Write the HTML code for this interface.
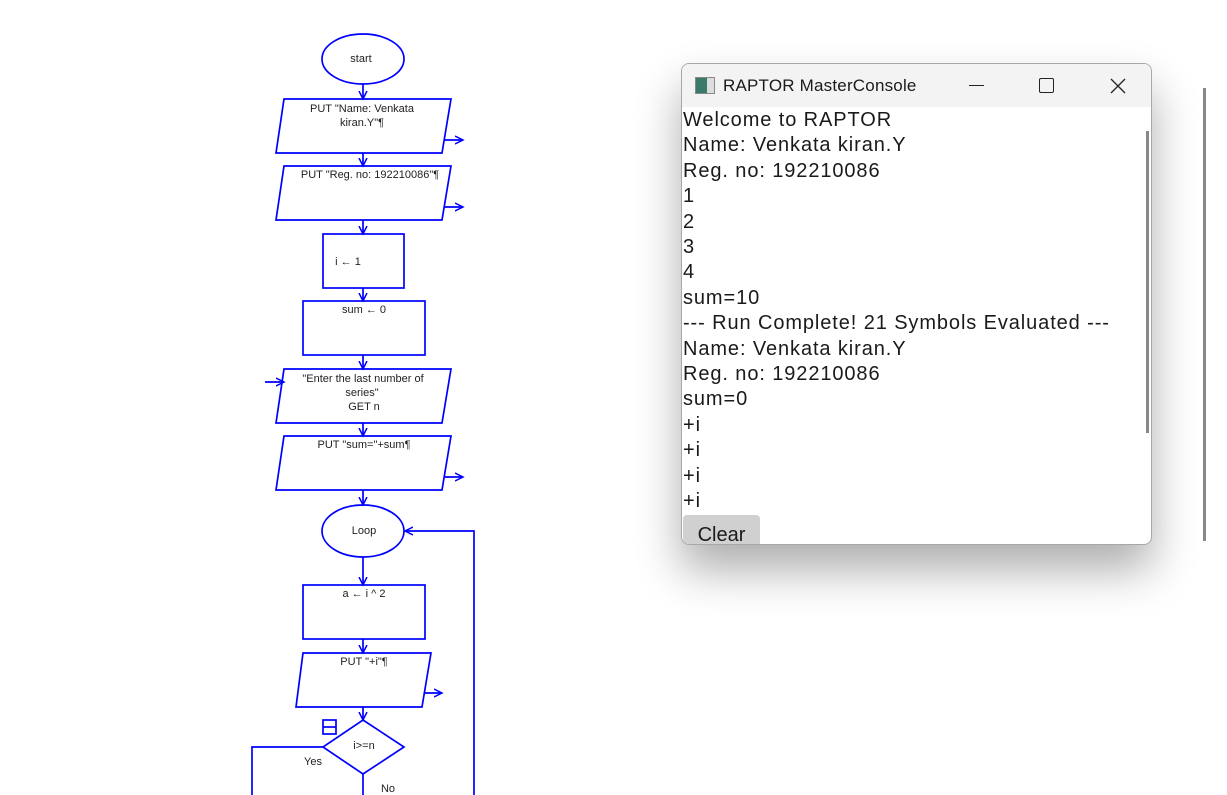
<!DOCTYPE html>
<html><head><meta charset="utf-8"><style>
body{margin:0;width:1227px;height:795px;background:#fff;overflow:hidden;position:relative;font-family:"Liberation Sans",sans-serif}
svg.fc{position:absolute;left:0;top:0}
.win{position:absolute;left:681px;top:63px;width:469px;height:480px;border:1px solid #a8a8a8;border-radius:8px;background:#fff;box-shadow:0 25px 45px rgba(0,0,0,.32);overflow:hidden}
.tb{height:43px;background:#f3f3f3;position:relative}
.tb .t{position:absolute;left:41px;top:12px;font-size:17px;color:#1a1a1a;letter-spacing:0.2px}
.ico{position:absolute;left:13px;top:13px;width:18px;height:15px;border:1px solid #888;background:linear-gradient(90deg,#3a7a6a 0 60%,#ddd 60%)}
.txt{position:absolute;left:1px;top:44px;font-size:20px;line-height:25.4px;color:#1a1a1a;white-space:pre;letter-spacing:0.9px}
.sb{position:absolute;left:464px;top:67px;width:3px;height:302px;background:#888}
.clr{position:absolute;left:1px;top:451px;width:77px;height:34px;background:#d0d0d0;border-radius:4px;font-size:20px;color:#1a1a1a;text-align:center;line-height:40px}
.vl{position:absolute;left:1203px;top:88px;width:3px;height:453px;background:#888}
</style></head><body>
<svg class="fc" width="1227" height="795" font-family="Liberation Sans, sans-serif" font-size="11" fill="none" stroke="#0000ff" stroke-width="1.7">
<defs><marker id="a" markerWidth="10" markerHeight="10" refX="8" refY="5" orient="auto" markerUnits="userSpaceOnUse"><path d="M0,1 L8,5 L0,9" stroke="#0000ff" fill="none" stroke-width="1.5"/></marker></defs>
<ellipse cx="363" cy="59" rx="41" ry="25"/>
<line x1="363" y1="84" x2="363" y2="99" marker-end="url(#a)"/>
<polygon points="284,99 451,99 442,153 276,153"/>
<line x1="444" y1="140" x2="463" y2="140" marker-end="url(#a)"/>
<line x1="363" y1="153" x2="363" y2="166" marker-end="url(#a)"/>
<polygon points="284,166 451,166 442,220 276,220"/>
<line x1="444" y1="207" x2="463" y2="207" marker-end="url(#a)"/>
<line x1="363" y1="220" x2="363" y2="234" marker-end="url(#a)"/>
<rect x="323" y="234" width="81" height="54"/>
<line x1="363" y1="288" x2="363" y2="301" marker-end="url(#a)"/>
<rect x="303" y="301" width="122" height="54"/>
<line x1="363" y1="355" x2="363" y2="369" marker-end="url(#a)"/>
<polygon points="284,369 451,369 442,423 276,423"/>
<line x1="265" y1="382" x2="284" y2="382" marker-end="url(#a)"/>
<line x1="363" y1="423" x2="363" y2="436" marker-end="url(#a)"/>
<polygon points="284,436 451,436 442,490 276,490"/>
<line x1="444" y1="477" x2="463" y2="477" marker-end="url(#a)"/>
<line x1="363" y1="490" x2="363" y2="505" marker-end="url(#a)"/>
<ellipse cx="363" cy="531" rx="41" ry="26"/>
<line x1="363" y1="557" x2="363" y2="585" marker-end="url(#a)"/>
<rect x="303" y="585" width="122" height="54"/>
<line x1="363" y1="639" x2="363" y2="653" marker-end="url(#a)"/>
<polygon points="303,653 431,653 422,707 296,707"/>
<line x1="424" y1="693" x2="442" y2="693" marker-end="url(#a)"/>
<line x1="363" y1="707" x2="363" y2="720" marker-end="url(#a)"/>
<polygon points="363,720 404,747 363,774 323,747"/>
<rect x="323" y="720" width="13" height="14"/><line x1="323" y1="727" x2="336" y2="727"/>
<polyline points="323,747 252,747 252,795"/>
<line x1="363" y1="774" x2="363" y2="795"/>
<polyline points="474,795 474,531 405,531" marker-end="url(#a)"/>
<g fill="#222" stroke="none" text-anchor="middle">
<text x="361" y="62">start</text>
<text x="362" y="112">PUT "Name: Venkata</text><text x="362" y="126">kiran.Y"¶</text>
<text x="370" y="178">PUT "Reg. no: 192210086"¶</text>
<text x="348" y="265">i ← 1</text>
<text x="364" y="313">sum ← 0</text>
<text x="363" y="382">"Enter the last number of</text><text x="362" y="396">series"</text><text x="364" y="410">GET n</text>
<text x="364" y="448">PUT "sum="+sum¶</text>
<text x="364" y="534">Loop</text>
<text x="364" y="597">a ← i  ^  2</text>
<text x="364" y="665">PUT "+i"¶</text>
<text x="364" y="749">i&gt;=n</text>
<text x="313" y="765">Yes</text>
<text x="388" y="792">No</text>
</g>
</svg>
<div class="win">
<div class="tb"><div class="ico"></div><div class="t">RAPTOR MasterConsole</div>
<div style="position:absolute;left:287px;top:21px;width:15px;height:1px;background:#222"></div>
<div style="position:absolute;left:357px;top:14px;width:13px;height:13px;border:1.3px solid #222;border-radius:2px"></div>
<svg style="position:absolute;left:428px;top:14px" width="16" height="16"><path d="M1,1 L15,15 M15,1 L1,15" stroke="#222" stroke-width="1.3"/></svg>
</div>
<div class="txt">Welcome to RAPTOR
Name: Venkata kiran.Y
Reg. no: 192210086
1
2
3
4
sum=10
--- Run Complete! 21 Symbols Evaluated ---
Name: Venkata kiran.Y
Reg. no: 192210086
sum=0
+i
+i
+i
+i</div>
<div class="sb"></div>
<div class="clr">Clear</div>
</div>
<div class="vl"></div>
</body></html>
